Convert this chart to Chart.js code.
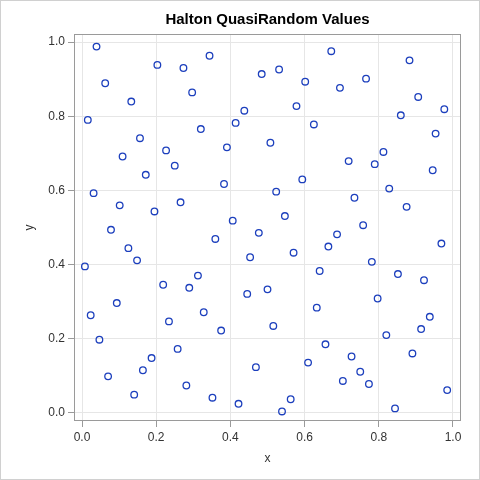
<!DOCTYPE html>
<html>
<head>
<meta charset="utf-8">
<script src="https://cdn.jsdelivr.net/npm/chart.js@4"></script>
<style>
  html, body { margin: 0; padding: 0; background: #fff; }
  #wrap { width: 480px; height: 480px; position: relative; }
</style>
</head>
<body>
<div id="wrap"><canvas id="chart"></canvas></div>
<script>
// Halton points (x, y)
const xVals = [0.5, 0.25, 0.75, 0.125, 0.625, 0.375, 0.875, 0.0625, 0.5625, 0.3125,
  0.8125, 0.1875, 0.6875, 0.4375, 0.9375, 0.03125, 0.53125, 0.28125, 0.78125, 0.15625,
  0.65625, 0.40625, 0.90625, 0.09375, 0.59375, 0.34375, 0.84375, 0.21875, 0.71875, 0.46875,
  0.96875, 0.015625, 0.515625, 0.265625, 0.765625, 0.140625, 0.640625, 0.390625, 0.890625, 0.078125,
  0.578125, 0.328125, 0.828125, 0.203125, 0.703125, 0.453125, 0.953125, 0.046875, 0.546875, 0.296875,
  0.796875, 0.171875, 0.671875, 0.421875, 0.921875, 0.109375, 0.609375, 0.359375, 0.859375, 0.234375,
  0.734375, 0.484375, 0.984375, 0.0078, 0.5078, 0.2578, 0.7578, 0.1328, 0.6328, 0.3828,
  0.8828, 0.0703, 0.5703, 0.3203, 0.8203, 0.1953, 0.6953, 0.4453, 0.9453, 0.0391,
  0.5391, 0.2891, 0.7891, 0.1641, 0.6641, 0.4141, 0.9141, 0.1016, 0.6016, 0.3516,
  0.8516, 0.2266, 0.7266, 0.4766, 0.9766, 0.0234, 0.5234, 0.2734, 0.7734, 0.1484];
const yVals = [0.3333, 0.6667, 0.1111, 0.4444, 0.7778, 0.2222, 0.5556, 0.8889, 0.0370, 0.3704,
  0.7037, 0.1481, 0.4815, 0.8148, 0.2593, 0.5926, 0.9259, 0.0741, 0.4074, 0.7407,
  0.1852, 0.5185, 0.8519, 0.2963, 0.6296, 0.9630, 0.0123, 0.3457, 0.6790, 0.1235,
  0.4568, 0.7901, 0.2346, 0.5679, 0.9012, 0.0494, 0.3827, 0.7160, 0.1605, 0.4938,
  0.8272, 0.2716, 0.6049, 0.9383, 0.0864, 0.4198, 0.7531, 0.1975, 0.5309, 0.8642,
  0.3086, 0.6420, 0.9753, 0.0247, 0.3580, 0.6914, 0.1358, 0.4691, 0.8025, 0.2469,
  0.5802, 0.9136, 0.0617, 0.3951, 0.7284, 0.1728, 0.5062, 0.8395, 0.2840, 0.6173,
  0.9506, 0.0988, 0.4321, 0.7654, 0.2099, 0.5432, 0.8765, 0.3210, 0.6543, 0.9877,
  0.0041, 0.3374, 0.6708, 0.1152, 0.4486, 0.7819, 0.2263, 0.5597, 0.8930, 0.0412,
  0.3745, 0.7078, 0.1523, 0.4856, 0.8189, 0.2634, 0.5967, 0.9300, 0.0782, 0.4115];
const tickVals = [0, 0.2, 0.4, 0.6, 0.8, 1.0];
const chartTitle = "Halton QuasiRandom Values";

const points = xVals.map((x, i) => ({ x: x, y: yVals[i] }));
const font = "Arial, 'Liberation Sans', sans-serif";

// frame on all four sides, outer border, title centred over the plot area
const framePlugin = {
  id: "frame",
  afterDraw(chart) {
    const { ctx, chartArea: a } = chart;
    ctx.save();
    ctx.strokeStyle = "#9a9a9a";
    ctx.lineWidth = 1;
    ctx.strokeRect(Math.round(a.left) + 0.5, Math.round(a.top) + 0.5,
      Math.round(a.right - a.left) - 1, Math.round(a.bottom - a.top) - 1);
    ctx.strokeStyle = "#d0d0d0";
    ctx.strokeRect(0.5, 0.5, chart.width - 1, chart.height - 1);
    ctx.fillStyle = "#000";
    ctx.font = "bold 15px " + font;
    ctx.textAlign = "center";
    ctx.textBaseline = "middle";
    ctx.fillText(chartTitle, (a.left + a.right) / 2, 20);
    ctx.restore();
  }
};

const pad = 0.0216;
const axisOpts = (title, isY) => ({
  type: "linear",
  min: -pad,
  max: 1 + pad,
  afterBuildTicks: s => { s.ticks = tickVals.map(v => ({ value: v })); },
  afterFit: s => { if (isY) s.width = 74; else s.height = 59; },
  grid: { color: "#e6e6e6", tickColor: "#9a9a9a", tickLength: 6, drawTicks: true },
  border: { display: false },
  ticks: {
    color: "#333",
    font: { family: font, size: 12 },
    padding: 3,
    callback: v => v.toFixed(1)
  },
  title: {
    display: true,
    text: title,
    color: "#333",
    font: { family: font, size: 12 },
    padding: isY ? { top: 22, bottom: 4 } : { top: 4, bottom: 14.5 }
  }
});

new Chart(document.getElementById("chart"), {
  type: "scatter",
  data: {
    datasets: [{
      data: points,
      pointStyle: "circle",
      pointRadius: 3.3,
      pointBorderWidth: 1.3,
      borderColor: "#1c3fbd",
      backgroundColor: "rgba(0,0,0,0)"
    }]
  },
  options: {
    responsive: true,
    maintainAspectRatio: false,
    animation: false,
    layout: { padding: { left: 0, right: 19, top: 34, bottom: 0 } },
    plugins: {
      legend: { display: false },
      tooltip: { enabled: false },
      title: { display: false }
    },
    scales: {
      x: axisOpts("x", false),
      y: axisOpts("y", true)
    }
  },
  plugins: [framePlugin]
});
</script>
</body>
</html>
